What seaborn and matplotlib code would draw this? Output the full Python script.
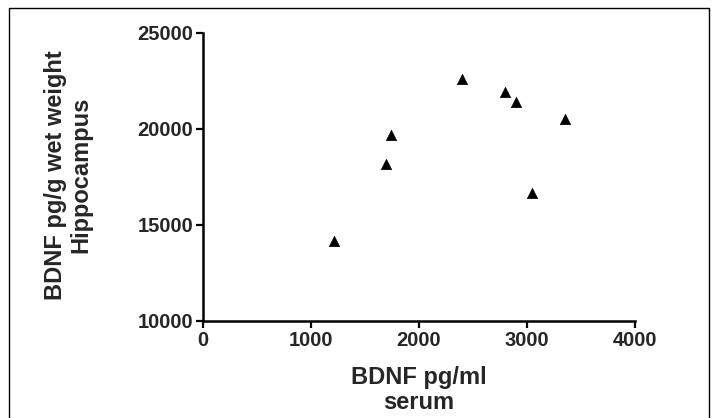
import matplotlib
matplotlib.use("Agg")
import matplotlib.pyplot as plt
import pandas as pd
import seaborn as sns
from matplotlib.patches import Rectangle

# values
serum = [1216, 1697, 1744, 2401, 2793, 2895, 3352, 3046]
hippocampus = [14170, 18180, 19700, 22590, 21940, 21420, 20500, 16680]
x_ticks = [0, 1000, 2000, 3000, 4000]
y_ticks = [10000, 15000, 20000, 25000]

df = pd.DataFrame({"serum": serum, "hippocampus": hippocampus})

sns.set_style("ticks")
plt.rcParams["font.family"] = ["Liberation Sans", "DejaVu Sans"]
plt.rcParams["font.weight"] = "bold"

fig = plt.figure(figsize=(7.18, 4.18), dpi=100)
ax = fig.add_axes([0.2827, 0.2321, 0.6017, 0.689])

sns.scatterplot(data=df, x="serum", y="hippocampus", marker="^", color="black",
                s=55, edgecolor="black", linewidth=0.5, ax=ax)

ax.set_xlim(0, 4000)
ax.set_ylim(10000, 25000)
ax.set_xticks(x_ticks)
ax.set_yticks(y_ticks)
ax.set_xticklabels([str(t) for t in x_ticks], fontsize=14.5, fontweight="bold")
ax.set_yticklabels([str(t) for t in y_ticks], fontsize=14.5, fontweight="bold")
ax.tick_params(direction="out", length=5, width=1.6, color="black", pad=2)
for side in ["left", "bottom"]:
    ax.spines[side].set_linewidth(1.8)
    ax.spines[side].set_color("black")
sns.despine(ax=ax)

ax.set_xlabel("BDNF pg/ml\nserum", fontsize=17, fontweight="bold", linespacing=1.12)
ax.set_ylabel("BDNF pg/g wet weight\nHippocampus", fontsize=17, fontweight="bold", linespacing=1.15)
ax.xaxis.set_label_coords(0.5, -0.155)
ax.yaxis.set_label_coords(-0.255, 0.507)

# thin frame around the whole picture
fig.patches.append(Rectangle((9 / 718, -0.01), 700 / 718, 1 - 8 / 418 + 0.01,
                             transform=fig.transFigure, fill=False,
                             edgecolor="black", linewidth=1.0))

fig.savefig("out.png", dpi=100)
